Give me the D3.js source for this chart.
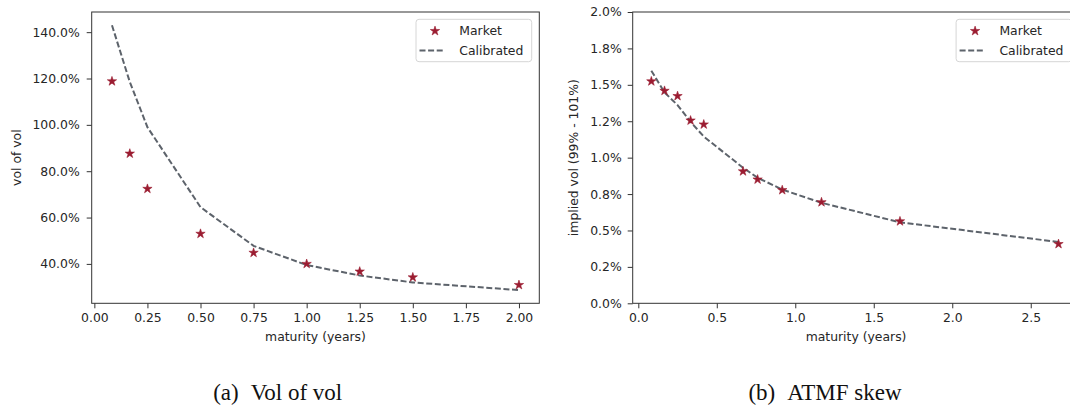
<!DOCTYPE html>
<html>
<head>
<meta charset="utf-8">
<script src="https://cdn.jsdelivr.net/npm/d3@7"></script>
<style>
  body { margin: 0; background: #fff; }
  svg { display: block; font-family: "DejaVu Sans", sans-serif; }
</style>
</head>
<body>
<svg id="chart"></svg>
<script>
// (a) vol of vol vs maturity
const volMaturity   = [0.083, 0.167, 0.25, 0.5, 0.75, 1.0, 1.25, 1.5, 2.0];
const volMarket     = [118.8, 87.6, 72.4, 53.0, 44.8, 40.0, 36.7, 34.2, 30.9];
const volCalibrated = [143.0, 118.5, 99.0, 64.5, 47.8, 39.5, 35.0, 32.0, 28.7];
const volXTicks = [0, 0.25, 0.5, 0.75, 1.0, 1.25, 1.5, 1.75, 2.0];
const volYTicks = [40, 60, 80, 100, 120, 140];

// (b) ATMF skew vs maturity
const skewMaturity   = [0.083, 0.167, 0.25, 0.333, 0.417, 0.667, 0.76, 0.917, 1.167, 1.667, 2.677];
const skewMarket     = [1.524, 1.459, 1.423, 1.255, 1.228, 0.906, 0.850, 0.777, 0.694, 0.563, 0.407];
const skewCalibrated = [1.597, 1.448, 1.361, 1.246, 1.145, 0.931, 0.862, 0.781, 0.690, 0.556, 0.421];
const skewXTicks = [0, 0.5, 1.0, 1.5, 2.0, 2.5];
const skewYTicks = [0, 0.25, 0.5, 0.75, 1.0, 1.25, 1.5, 1.75, 2.0];
const skewYLabels = ["0.0%", "0.2%", "0.5%", "0.8%", "1.0%", "1.2%", "1.5%", "1.8%", "2.0%"];

const legendLabels = ["Market", "Calibrated"];

const W = 1070, H = 410;
const TEXT = "#262626";
const STAR = "#9b1c31";
const LINE = "#5d636b";
const FS = 12.4;

const svg = d3.select("#chart").attr("width", W).attr("height", H);
svg.append("rect").attr("width", W).attr("height", H).attr("fill", "#fff");

function panel(opt) {
  const x = d3.scaleLinear().domain(opt.xDomain).range([opt.left, opt.right]);
  const y = d3.scaleLinear().domain(opt.yDomain).range([opt.bottom, opt.top]);
  const g = svg.append("g");

  // axes
  const ax = g.append("g").attr("transform", `translate(0,${opt.bottom})`)
    .call(d3.axisBottom(x).tickValues(opt.xTicks).tickFormat(opt.xFormat)
      .tickSize(5).tickPadding(5).tickSizeOuter(0));
  const ay = g.append("g").attr("transform", `translate(${opt.left},0)`)
    .call(d3.axisLeft(y).tickValues(opt.yTicks).tickFormat(opt.yFormat)
      .tickSize(5).tickPadding(opt.yPad).tickSizeOuter(0));
  [ax, ay].forEach(a => {
    a.select(".domain").remove();
    a.selectAll("line").attr("stroke", "#333").attr("stroke-width", 1);
    a.selectAll("text").attr("fill", TEXT).attr("font-size", FS)
      .attr("font-family", "DejaVu Sans");
  });

  // frame
  g.append("rect")
    .attr("x", opt.left).attr("y", opt.top)
    .attr("width", opt.right - opt.left).attr("height", opt.bottom - opt.top)
    .attr("fill", "none").attr("stroke", "#333").attr("stroke-width", 1);

  // calibrated dashed line
  g.append("path")
    .datum(opt.xs.map((v, i) => [v, opt.cal[i]]))
    .attr("d", d3.line().x(d => x(d[0])).y(d => y(d[1])))
    .attr("fill", "none").attr("stroke", LINE).attr("stroke-width", 2)
    .attr("stroke-dasharray", "6,2.6");

  // market stars
  const star = d3.symbol().type(d3.symbolStar).size(27);
  g.selectAll(".mk").data(opt.xs.map((v, i) => [v, opt.mkt[i]])).enter()
    .append("path")
    .attr("d", star)
    .attr("transform", d => `translate(${x(d[0])},${y(d[1])})`)
    .attr("fill", STAR).attr("stroke", STAR).attr("stroke-width", 0.6);

  // axis titles
  g.append("text")
    .attr("x", (opt.left + opt.right) / 2).attr("y", 341)
    .attr("text-anchor", "middle").attr("font-size", FS).attr("fill", TEXT)
    .text("maturity (years)");
  g.append("text")
    .attr("transform", `translate(${opt.yLabelX},${(opt.top + opt.bottom) / 2}) rotate(-90)`)
    .attr("text-anchor", "middle").attr("dy", "0.35em")
    .attr("font-size", FS).attr("fill", TEXT)
    .text(opt.yLabel);

  // legend
  const lr = opt.right - 7.6, lw = 115.7, ll = lr - lw;
  const lg = g.append("g");
  lg.append("rect")
    .attr("x", ll).attr("y", 19.3).attr("width", lw).attr("height", 42.4)
    .attr("rx", 3).attr("fill", "#fff").attr("fill-opacity", 0.8)
    .attr("stroke", "#d6d6d6").attr("stroke-width", 1);
  lg.append("path").attr("d", star)
    .attr("transform", `translate(${ll + 19},31)`)
    .attr("fill", STAR).attr("stroke", STAR).attr("stroke-width", 0.6);
  lg.append("line")
    .attr("x1", ll + 3.5).attr("x2", ll + 27.5).attr("y1", 50.5).attr("y2", 50.5)
    .attr("stroke", LINE).attr("stroke-width", 2).attr("stroke-dasharray", "6,2.6");
  legendLabels.forEach((t, i) => {
    lg.append("text")
      .attr("x", ll + 43.3).attr("y", 31 + i * 19.5).attr("dy", "0.36em")
      .attr("font-size", FS).attr("fill", TEXT).text(t);
  });

  // caption
  const cap = svg.append("text")
    .attr("x", opt.capX).attr("y", 400)
    .attr("text-anchor", "middle")
    .attr("font-family", "Liberation Serif, serif")
    .attr("font-size", 23).attr("fill", "#111");
  cap.append("tspan").text(opt.capTag);
  cap.append("tspan").attr("dx", 12).text(opt.capText);
}

panel({
  left: 91.7, right: 539.3, top: 12, bottom: 303.3,
  xDomain: [-0.0125, 2.0958], yDomain: [23.0, 148.7],
  xTicks: volXTicks, yTicks: volYTicks,
  xFormat: d3.format(".2f"), yFormat: d => d.toFixed(1) + "%", yPad: 7,
  xs: volMaturity, mkt: volMarket, cal: volCalibrated,
  yLabel: "vol of vol", yLabelX: 17,
  capX: 277.7, capTag: "(a)", capText: "Vol of vol"
});

panel({
  left: 632.7, right: 1079.4, top: 12, bottom: 303.3,
  xDomain: [-0.0357, 2.81], yDomain: [0, 2.0],
  xTicks: skewXTicks, yTicks: skewYTicks,
  xFormat: d3.format(".1f"), yFormat: (d, i) => skewYLabels[i], yPad: 6,
  xs: skewMaturity, mkt: skewMarket, cal: skewCalibrated,
  yLabel: "implied vol (99% - 101%)", yLabelX: 574,
  capX: 825, capTag: "(b)", capText: "ATMF skew"
});
</script>
</body>
</html>
